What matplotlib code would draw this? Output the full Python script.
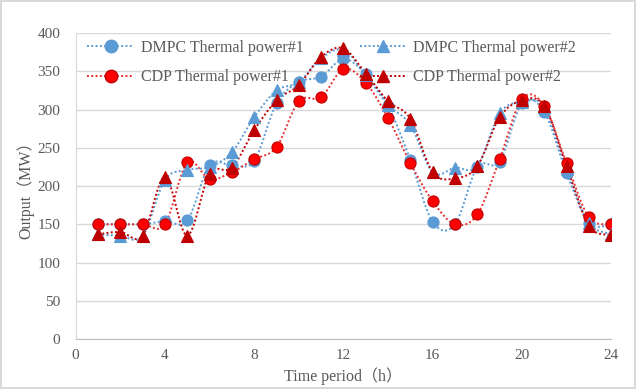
import numpy as np
import matplotlib.pyplot as plt
from matplotlib.path import Path
from matplotlib.patches import PathPatch
from matplotlib.lines import Line2D

plt.rcParams['font.family'] = ['Liberation Serif', 'Noto Sans CJK SC']

hours = list(range(1, 25))
dmpc_1 = [150, 150, 150, 154, 155, 227, 227, 233, 308, 336, 343, 366,
          346, 305, 234, 153, 150, 225, 232, 308, 297, 217, 152, 150]
dmpc_2 = [137, 135, 135, 208, 221, 225, 244, 290, 325, 336, 367, 378,
          345, 306, 280, 218, 224, 226, 295, 310, 303, 222, 152, 137]
cdp_1 = [150, 150, 150, 150, 231, 209, 218, 235, 251, 311, 316, 353,
         335, 289, 230, 180, 150, 163, 235, 314, 305, 230, 159, 150]
cdp_2 = [137, 140, 135, 212, 135, 216, 224, 273, 312, 332, 369, 380,
         347, 311, 288, 218, 210, 226, 290, 312, 305, 226, 148, 136]

xticks = [0, 4, 8, 12, 16, 20, 24]
yticks = list(range(0, 401, 50))

grey = '#595959'


def smooth_path(x, y):
    # Excel-like smoothed line: cubic bezier segments through the points
    pts = np.column_stack([x, y]).astype(float)
    n = len(pts)
    verts = [pts[0]]
    codes = [Path.MOVETO]
    for i in range(n - 1):
        p0 = pts[i - 1] if i > 0 else pts[i]
        p1 = pts[i]
        p2 = pts[i + 1]
        p3 = pts[i + 2] if i + 2 < n else pts[i + 1]
        c1 = p1 + (p2 - p0) / 6.0
        c2 = p2 - (p3 - p1) / 6.0
        verts += [c1, c2, p2]
        codes += [Path.CURVE4] * 3
    return Path(verts, codes)


fig = plt.figure(figsize=(6.36, 3.89), dpi=100)
fig.patch.set_edgecolor('#d9d9d9')
fig.patch.set_linewidth(1.5)
ax = fig.add_axes([0.119, 0.1285, 0.842, 0.7865])

series = [
    ('DMPC Thermal power#1', dmpc_1, '#5b9bd5', 'o', '#5b9bd5', '#5b9bd5'),
    ('CDP Thermal power#1', cdp_1, '#e83030', 'o', '#ff0000', '#c00000'),
    ('DMPC Thermal power#2', dmpc_2, '#5b9bd5', '^', '#5b9bd5', '#5b9bd5'),
    ('CDP Thermal power#2', cdp_2, '#c00000', '^', '#c00000', '#c00000'),
]

handles = []
for label, vals, lc, mk, fc, ec in series:
    patch = PathPatch(smooth_path(hours, vals), facecolor='none', edgecolor=lc,
                      linestyle=(0, (1, 1.2)), linewidth=1.4, zorder=2)
    ax.add_patch(patch)
    ms = 8 if mk == 'o' else 8.5
    ax.plot(hours, vals, linestyle='none', marker=mk, markersize=ms,
            markerfacecolor=fc, markeredgecolor=ec, markeredgewidth=0.8, zorder=3)
    handles.append(Line2D([], [], color=lc, linestyle=(0, (1, 1.2)), linewidth=1.4,
                          marker=mk, markersize=9, markerfacecolor=fc,
                          markeredgecolor=ec, label=label))

ax.set_xlim(0, 24)
ax.set_ylim(0, 400)
ax.set_xticks(xticks)
ax.set_yticks(yticks)
ax.tick_params(axis='both', length=0, labelsize=11, colors=grey)
ax.tick_params(axis='y', pad=11)
ax.tick_params(axis='x', pad=7)
ax.grid(axis='y', color='#d9d9d9', linewidth=1)
ax.set_axisbelow(True)
for s in ['top', 'right']:
    ax.spines[s].set_visible(False)
ax.spines['left'].set_color('#d9d9d9')
ax.spines['bottom'].set_color('#bfbfbf')

ax.set_xlabel('Time period（h）', fontsize=11.5, color=grey, labelpad=4)
ax.set_ylabel('Output（MW）', fontsize=11.5, color=grey, labelpad=2)

ax.legend(handles=handles, ncol=2, loc='upper left', frameon=False,
          fontsize=11.5, labelcolor=grey, bbox_to_anchor=(-0.005, 1.025),
          handlelength=2.9, handletextpad=0.45, columnspacing=3.5,
          labelspacing=0.85)

fig.savefig('out.png', dpi=100)
